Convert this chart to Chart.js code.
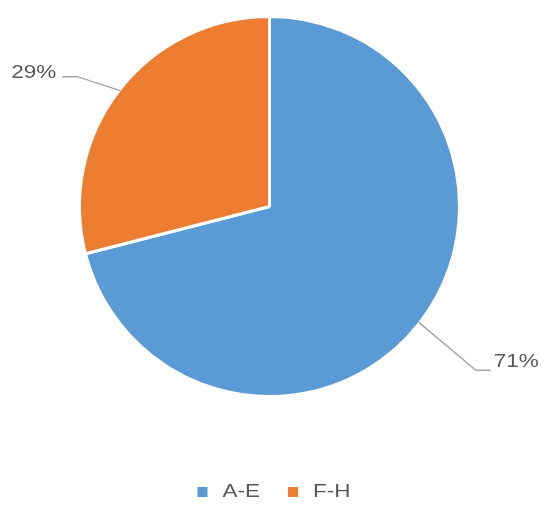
<!DOCTYPE html>
<html>
<head>
<meta charset="utf-8">
<script src="https://cdn.jsdelivr.net/npm/chart.js@4"></script>
<style>
  html, body { margin: 0; padding: 0; background: #fff; }
  #wrap { width: 545px; height: 505px; }
</style>
</head>
<body>
<div id="wrap"><canvas id="pie"></canvas></div>
<script>
var categories = ['A-E', 'F-H'];
var shares = [71, 29];
var colors = ['#5B9BD5', '#ED7D31'];

// where each leader line bends, relative to the slice edge
var leaders = [
  { dx: 57, dy: 48, run: 15, textDy: -8 },
  { dx: -43, dy: -14, run: -15, textDy: -4 }
];

function drawText(ctx, txt, x, y, align) {
  // text in the source is wide, stretch it a bit
  var sx = 1.25;
  var w = ctx.measureText(txt).width * sx;
  var left = align === 'right' ? x - w : x;
  ctx.save();
  ctx.translate(left, y);
  ctx.scale(sx, 1);
  ctx.textAlign = 'left';
  ctx.fillText(txt, 0, 0);
  ctx.restore();
  return w;
}

var labelsPlugin = {
  id: 'outsideLabels',
  afterDraw: function (chart) {
    var ctx = chart.ctx;
    var meta = chart.getDatasetMeta(0);
    var ds = chart.data.datasets[0];
    ctx.save();
    ctx.font = '18px "Liberation Sans"';
    ctx.fillStyle = '#595959';
    ctx.textBaseline = 'middle';

    meta.data.forEach(function (arc, i) {
      var p = arc.getProps(['x', 'y', 'startAngle', 'endAngle', 'outerRadius'], true);
      var mid = (p.startAngle + p.endAngle) / 2;
      var ex = p.x + Math.cos(mid) * (p.outerRadius - 1);
      var ey = p.y + Math.sin(mid) * (p.outerRadius - 1);
      var l = leaders[i];
      var bx = ex + l.dx, by = ey + l.dy;
      var hx = bx + l.run;
      ctx.strokeStyle = '#a6a6a6';
      ctx.lineWidth = 1.5;
      ctx.beginPath();
      ctx.moveTo(ex, ey);
      ctx.lineTo(bx, by);
      ctx.lineTo(hx, by);
      ctx.stroke();
      var txt = ds.data[i] + '%';
      if (l.run > 0) drawText(ctx, txt, hx + 3, by + l.textDy, 'left');
      else drawText(ctx, txt, hx - 6, by + l.textDy, 'right');
    });

    // legend at the bottom
    var box = 10, gap = 15, itemGap = 28;
    var widths = chart.data.labels.map(function (t) { return ctx.measureText(t).width * 1.25; });
    var total = 0;
    widths.forEach(function (w, i) { total += box + gap + w + (i ? itemGap : 0); });
    var x = 274 - total / 2;
    var y = 492;
    chart.data.labels.forEach(function (t, i) {
      ctx.fillStyle = ds.backgroundColor[i];
      ctx.fillRect(x, y - box / 2, box, box);
      ctx.fillStyle = '#595959';
      drawText(ctx, t, x + box + gap, y, 'left');
      x += box + gap + widths[i] + itemGap;
    });
    ctx.restore();
  }
};

new Chart(document.getElementById('pie'), {
  type: 'pie',
  data: {
    labels: categories,
    datasets: [{
      data: shares,
      backgroundColor: colors,
      borderColor: '#ffffff',
      borderWidth: 3
    }]
  },
  options: {
    responsive: true,
    maintainAspectRatio: false,
    animation: false,
    radius: 190,
    layout: { padding: { top: 0, left: 0, right: 6, bottom: 92 } },
    plugins: {
      legend: { display: false },
      tooltip: { enabled: false }
    }
  },
  plugins: [labelsPlugin]
});
</script>
</body>
</html>
